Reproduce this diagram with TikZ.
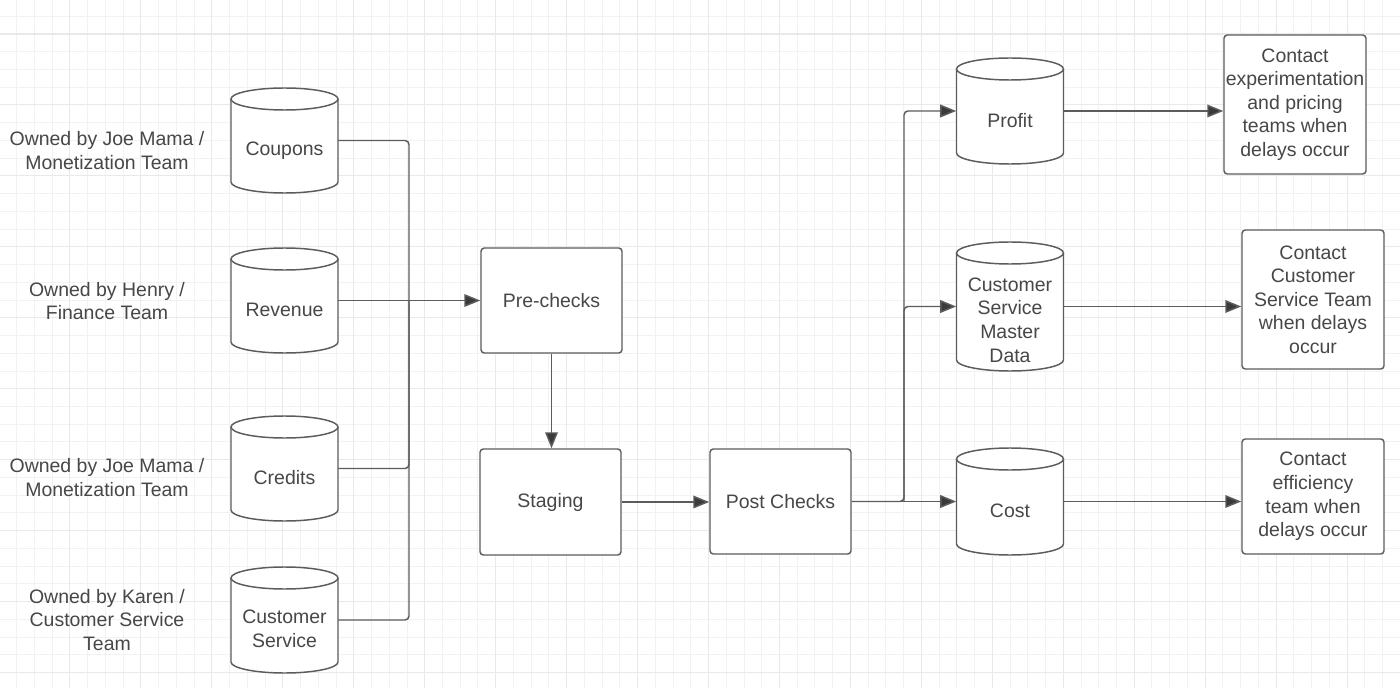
\documentclass[tikz,border=0pt]{standalone}
\usepackage{fontspec}
\setmainfont{Liberation Sans}
\usetikzlibrary{arrows.meta,calc}
\definecolor{gridminor}{HTML}{F2F2F2}
\definecolor{gridmajor}{HTML}{E9E9E9}
\definecolor{edge}{HTML}{5C5C5C}
\definecolor{ink}{HTML}{474747}
\definecolor{tipcol}{HTML}{3A3A3A}
\newcommand\dbcyl[6]{%
  \fill[white] ({#2-53.5},{#3-#4/2+11}) -- ({#2-53.5},{#3+#4/2-11})
    arc[start angle=180,end angle=360,x radius=40.125pt,y radius=8.25pt]
    -- ({#2+53.5},{#3-#4/2+11})
    arc[start angle=0,end angle=180,x radius=40.125pt,y radius=8.25pt] -- cycle;
  \draw[shapeline] ({#2-53.5},{#3-#4/2+11}) -- ({#2-53.5},{#3+#4/2-11})
    arc[start angle=180,end angle=360,x radius=40.125pt,y radius=8.25pt]
    -- ({#2+53.5},{#3-#4/2+11});
  \draw[shapeline] (#2,{#3-#4/2+11}) ellipse[x radius=40.125pt,y radius=8.25pt];
  \node[cylnode, minimum height={#4*0.75pt}] (#1) at (#2,#3) {};
  \node[txt] (#1-t) at (#2,{#3+#6}) {#5};
}
\begin{document}
\begin{tikzpicture}[x=0.75pt,y=-0.75pt,
  txt/.style={font=\fontsize{14.6}{17.7}\selectfont, text=ink, align=center, inner sep=0pt},
  shapeline/.style={draw=edge, line width=1.1pt},
  cylnode/.style={inner sep=0pt, minimum width=80.25pt},
  procbox/.style={shapeline, fill=white, rounded corners=2.5pt, txt},
  conn/.style={draw=edge, line width=1.1pt, rounded corners=3pt},
  arr/.style={conn, -{Triangle[length=12pt,width=9.5pt,fill=tipcol]}},
]
\useasboundingbox (0,0) rectangle (1400,688);
\fill[white] (0,0) rectangle (1400,688);
% grid
\foreach \i in {0,...,80} {\draw[gridminor, line width=0.7pt] ({-1+\i*17.7375},0) -- ({-1+\i*17.7375},688);}
\foreach \i in {-2,...,40} {\draw[gridminor, line width=0.7pt] (0,{34+\i*17.7375}) -- (1400,{34+\i*17.7375});}
\foreach \i in {0,...,20} {\draw[gridmajor, line width=0.8pt] ({-1+\i*70.95},0) -- ({-1+\i*70.95},688);}
\foreach \i in {0,...,10} {\draw[gridmajor, line width=0.8pt] (0,{34+\i*70.95}) -- (1400,{34+\i*70.95});}

% left labels
\node[txt] (lab1) at (107,150.5) {Owned by Joe Mama /\\Monetization Team};
\node[txt] (lab2) at (107,301) {Owned by Henry /\\Finance Team};
\node[txt] (lab3) at (107,477.5) {Owned by Joe Mama /\\Monetization Team};
\node[txt] (lab4) at (107,620) {Owned by Karen /\\Customer Service\\Team};

% source cylinders
\dbcyl{coupons}{284.5}{140.5}{105}{Coupons}{10.5}
\dbcyl{revenue}{284.5}{300.5}{105}{Revenue}{9.5}
\dbcyl{credits}{284.5}{468.5}{105}{Credits}{9.5}
\dbcyl{custsvc}{284.5}{620}{106}{Customer\\Service}{8.5}

% process boxes
\node[procbox, minimum width=141*0.75pt, minimum height=105*0.75pt] (pre) at (551.5,300.5) {Pre-checks};
\node[procbox, minimum width=141*0.75pt, minimum height=106*0.75pt] (staging) at (550.5,502) {Staging};
\node[procbox, minimum width=141*0.75pt, minimum height=105*0.75pt] (post) at (780.5,501.5) {Post Checks};

% target cylinders
\dbcyl{profit}{1010}{111}{106}{Profit}{9.5}
\dbcyl{csmd}{1010}{306.5}{129}{Customer\\Service\\Master\\Data}{13.5}
\dbcyl{cost}{1010}{501.5}{107}{Cost}{9.5}

% contact boxes
\node[procbox, minimum width=142*0.75pt, minimum height=139*0.75pt] (c1) at (1295,104.5) {Contact\\experimentation\\and pricing\\teams when\\delays occur};
\node[procbox, minimum width=142*0.75pt, minimum height=139*0.75pt] (c2) at (1313,299.5) {Contact\\Customer\\Service Team\\when delays\\occur};
\node[procbox, minimum width=142*0.75pt, minimum height=115*0.75pt] (c3) at (1313,496.5) {Contact\\efficiency\\team when\\delays occur};

% junctions
\coordinate (jl) at (409,300.5);
\coordinate (jr) at (904,501.5);

% connectors
\draw[conn] (coupons.east) -| (jl);
\draw[conn] (credits.east) -| (jl);
\draw[conn] (custsvc.east) -| (jl);
\draw[arr] (revenue.east) -- (pre.west);
\draw[arr] (pre.south) -- (pre.south |- staging.north);
\draw[arr] (staging.east) -- (staging.east -| post.west);
\draw[arr] (post.east) -- (cost.west);
\draw[arr] (post.east) -- (jr) |- (profit.west);
\draw[arr] (jr) |- (csmd.west);
\draw[arr] (profit.east) -- (profit.east -| c1.west);
\draw[arr] (csmd.east) -- (csmd.east -| c2.west);
\draw[arr] (cost.east) -- (cost.east -| c3.west);
\end{tikzpicture}
\end{document}
